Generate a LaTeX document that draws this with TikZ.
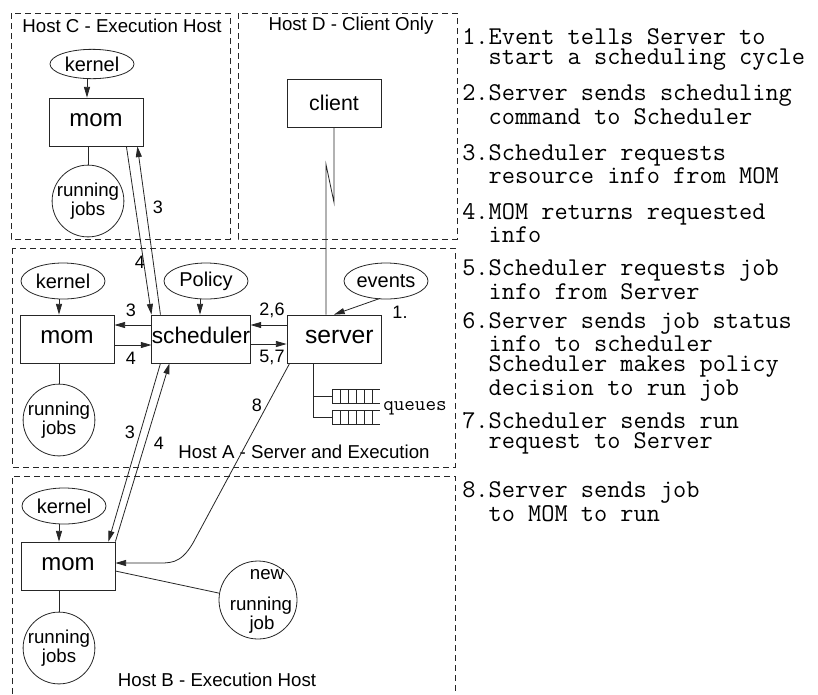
\documentclass[tikz,border=0pt]{standalone}
\usepackage{fontspec}
\setmainfont{Liberation Sans}
\usetikzlibrary{arrows.meta,calc,shapes.geometric}

\newcommand{\contline}{\\\phantom{00}}

\begin{document}
\begin{tikzpicture}[x=0.75pt,y=-0.75pt,
  ln/.style={draw=black!85,line width=0.6pt},
  arr/.style={ln,-{Triangle[length=8pt,width=4.5pt]}},
  hostbox/.style={draw=black!85,line width=0.6pt,dash pattern=on 4.5pt off 3pt},
  daemon/.style={ln,rectangle,minimum width=70.5pt,minimum height=36pt,inner sep=0pt,
    text height=10pt,text depth=3.5pt,font=\fontsize{18}{20}\selectfont},
  src/.style={ln,ellipse,minimum width=63pt,minimum height=27pt,inner sep=0pt,
    font=\fontsize{15}{17}\selectfont},
  jobs/.style={ln,circle,minimum size=45pt,inner sep=0pt,align=center,
    font=\fontsize{14}{14}\selectfont},
  hostlbl/.style={inner sep=0pt,font=\fontsize{14}{16}\selectfont},
  num/.style={inner sep=0pt,font=\fontsize{13.5}{15}\selectfont},
  % a multi-line item is placed by the baseline of its last line
  stepitem/.style={anchor=base west,inner sep=0pt,align=left,
    font=\ttfamily\fontsize{19.2}{15}\selectfont}
]
\fill[white] (0,0) rectangle (818,694);
\useasboundingbox (0,0) rectangle (818,694);

% host frames
\draw[hostbox] (11,13) rectangle (230,239);
\draw[hostbox] (238,13) rectangle (457,239);
\draw[hostbox] (12,248) rectangle (455,467);
\draw[hostbox] (12,694) -- (12,476) -- (455,476) -- (455,694);

\node[hostlbl] (hC) at (122,26) {Host C - Execution Host};
\node[hostlbl] (hD) at (351,26) {Host D - Client Only};
\node[hostlbl] (hA) at (304,452) {Host A - Server and Execution};
\node[hostlbl] (hB) at (217,680) {Host B - Execution Host};

% Host C
\node[src,minimum height=22pt] (kernelC) at (92,64) {kernel};
\node[daemon] (momC) at (96,122) {mom};
\node[jobs] (runC) at (88,201) {running\\jobs};

% Host D
\node[daemon,text height=12pt,text depth=1pt,font=\fontsize{16}{18}\selectfont] (client) at (334,103) {client};

% Host A
\node[src] (kernelA) at (63,281) {kernel};
\node[src] (policy) at (206,281) {Policy};
\node[src] (events) at (386,281) {events};
\node[daemon,font=\fontsize{17}{19}\selectfont] (sched) at (201,339) {scheduler};
\node[daemon] (momA) at (67,339) {mom};
\node[daemon,font=\fontsize{18.5}{20}\selectfont] (server) at (334,339) {\hspace*{8pt}server};
\node[jobs] (runA) at (59,420) {running\\jobs};

% Host B
\node[src] (kernelB) at (64,506) {kernel};
\node[daemon] (momB) at (68,566) {mom};
\node[jobs] (runB) at (59,648) {running\\jobs};
\node[jobs,minimum size=58.5pt] (newjob) at (258,600) {};
\node[num,font=\fontsize{14}{16}\selectfont] (nj1) at (267,575) {new};
\node[num,font=\fontsize{14}{16}\selectfont] (nj2) at (261,606) {running};
\node[num,font=\fontsize{14}{16}\selectfont] (nj3) at (262,625) {job};

% local links inside the hosts
\coordinate (kc) at ($(kernelC.south)+(-5,0)$);
\draw[arr] (kc) -- (kc |- momC.north);
\draw[ln] (runC.north) -- (runC.north |- momC.south);
\draw[arr] (kernelA.south -| 59,0) -- (momA.north -| 59,0);
\draw[ln] (momA.south -| 59,0) -- (runA.north);
\draw[arr] (policy.south -| 200,0) -- (sched.north -| 200,0);
\draw[arr] ($(events.south)+(-6,-1)$) -- (server.north);
\draw[arr] (kernelB.south -| 59,0) -- (momB.north -| 59,0);
\draw[ln] (momB.south -| 59,0) -- (runB.north);
\draw[ln] ($(momB.east)+(0,5)$) -- (newjob.170);

% client link to the server
\draw[ln] (client.south) -- ++(0,75) -- ++(-8,-38) coordinate (zz) -- (zz |- server.north);

% scheduler traffic in Host A
\draw[arr] (sched.west |- 0,325) -- (momA.east |- 0,325);
\draw[arr] (momA.east |- 0,345) -- (sched.west |- 0,345);
\draw[arr] (server.west |- 0,325) -- (sched.east |- 0,325);
\draw[arr] (sched.east |- 0,344) -- (server.west |- 0,344);

% scheduler traffic to the other execution hosts
\draw[arr] ($(momC.south east)+(-17,0)$) -- (sched.north west);
\draw[arr] ($(sched.north west)+(9,0)$) -- ($(momC.south east)+(-6,0)$);
\draw[arr] ($(sched.south west)+(9,0)$) -- ($(momB.north east)+(-7,0)$);
\draw[arr] (momB.north east) -- ($(sched.south west)+(18,0)$);

% job dispatch
\draw[arr] ($(server.south west)+(3,0)$) -- (193,543)
  .. controls (180,565) and (170,563) .. (152,563) -- ($(momB.east)+(0,-3)$);

% queues
\draw[ln] (server.south -| 313,0) -- (313,417);
\foreach \qy in {396,417} {
  \draw[ln] (313,\qy) -- (332,\qy);
  \draw[ln] (332,\qy-7) -- (380,\qy-7) (332,\qy+7) -- (380,\qy+7);
  \foreach \qx in {332,340,348,356,364,372}
    \draw[ln] (\qx,\qy-7) -- (\qx,\qy+7);
}
\node[anchor=base west,inner sep=0pt,font=\ttfamily\fontsize{15.4}{17}\selectfont] (qlbl) at (383,410) {queues};

% step numbers
\node[num] (n3c) at (158,207) {3};
\node[num] (n4c) at (140,262) {4};
\node[num] (n3a) at (131,310) {3};
\node[num] (n4a) at (131,358) {4};
\node[num] (n26) at (272,310) {2,6};
\node[num] (n57) at (272,357) {5,7};
\node[num] (n1) at (400,312) {1.};
\node[num] (n8) at (257,405) {8};
\node[num] (n3b) at (130,432) {3};
\node[num] (n4b) at (159,443) {4};

% step list
\node[stepitem] (s1) at (462,64) {1.Event tells Server to\contline start a scheduling cycle};
\node[stepitem] (s2) at (462,124) {2.Server sends scheduling\contline command to Scheduler};
\node[stepitem] (s3) at (462,183) {3.Scheduler requests\contline resource info from MOM};
\node[stepitem] (s4) at (462,242) {4.MOM returns requested\contline info};
\node[stepitem] (s5) at (462,299) {5.Scheduler requests job\contline info from Server};
\node[stepitem] (s6) at (462,395) {6.Server sends job status\contline info to scheduler\contline Scheduler makes policy\contline decision to run job};
\node[stepitem] (s7) at (462,448) {7.Scheduler sends run\contline request to Server};
\node[stepitem] (s8) at (462,521) {8.Server sends job\contline to MOM to run};
\end{tikzpicture}
\end{document}
